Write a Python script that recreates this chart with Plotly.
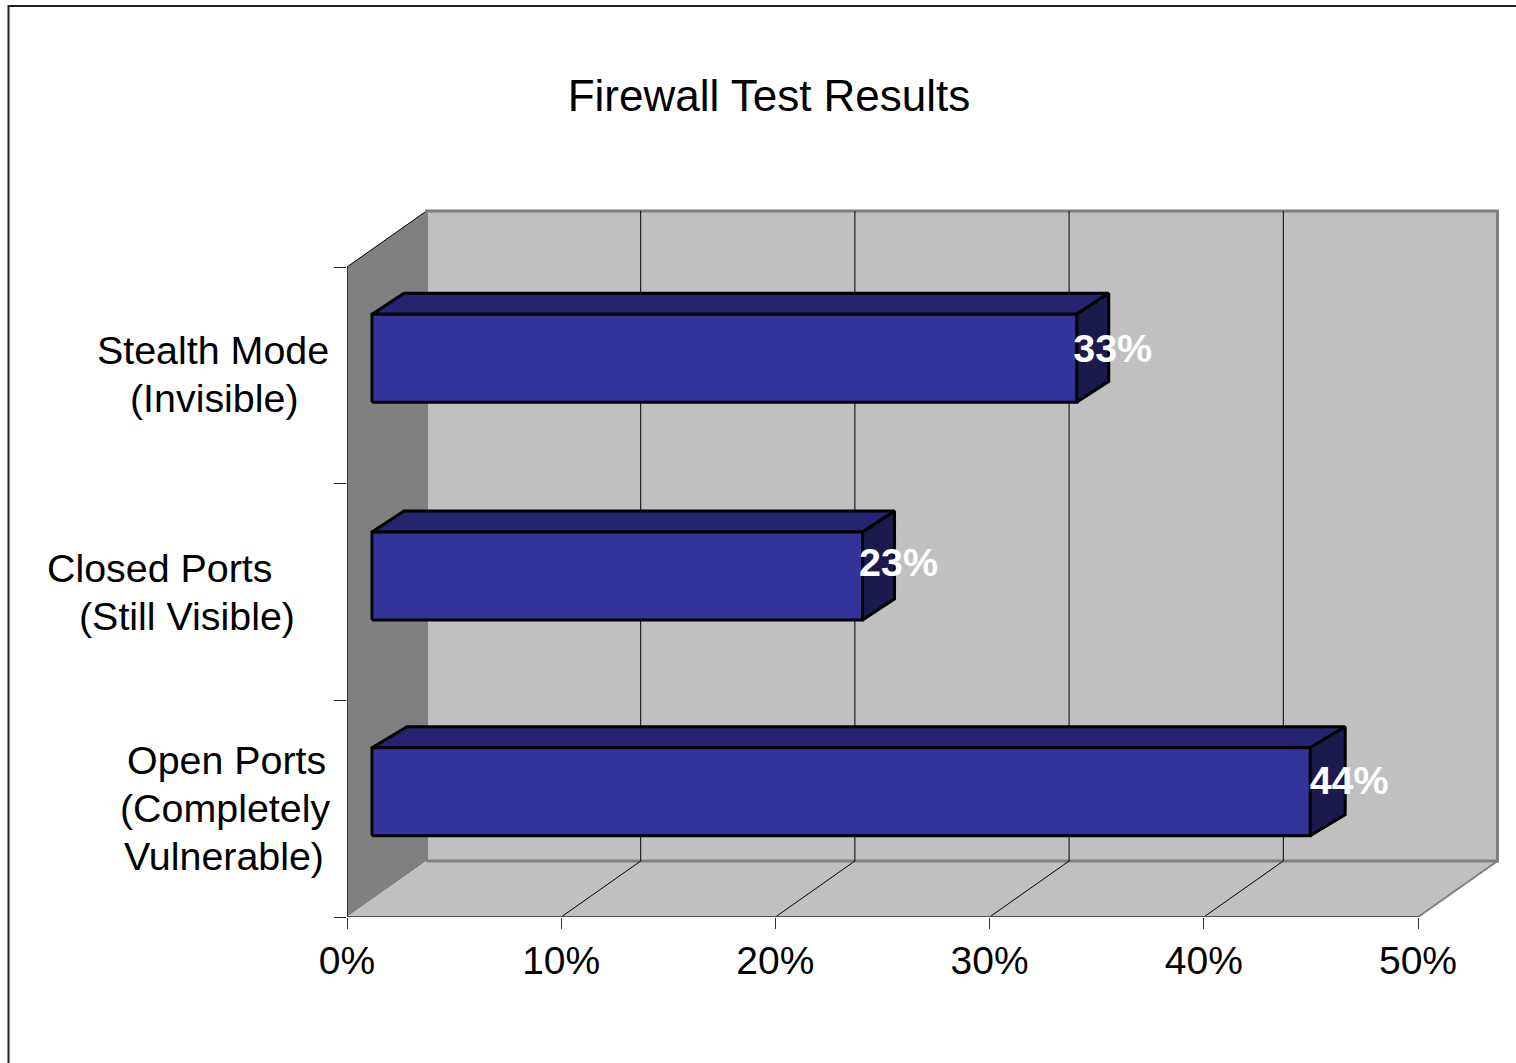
import plotly.graph_objects as go

# ---- data ----
categories = ["Open Ports", "Closed Ports", "Stealth Mode"]
category_lines = [
    ["Open Ports", "(Completely", "Vulnerable)"],
    ["Closed Ports", "(Still Visible)"],
    ["Stealth Mode", "(Invisible)"],
]
values = [43.8, 22.9, 32.9]
x_ticks = [0, 10, 20, 30, 40, 50]
title_text = "Firewall Test Results"

# ---- layout geometry (pixels) ----
W, H = 1516, 1063
L, R, T, B = 347, 1506, 203, 917       # plot box, slightly larger than the walls
PX_X = (1418 - 347) / 50.0
PX_Y = (917 - 267) / 3.0
FONT = "Liberation Sans, Arial, sans-serif"
DX, DY = 79.5 / PX_X, 56 / PX_Y        # floor/wall depth
BAR_X0 = 25 / PX_X                     # bar start offset
BAR_DY = [17 / PX_Y, 16 / PX_Y, 17 / PX_Y]   # bar shift upward from band centre
BAR_H = 44 / PX_Y                      # half height
BAR_DX3 = [35 / PX_X, 32 / PX_X, 32 / PX_X]  # bar depth
BAR_DY3 = 21 / PX_Y
LABEL_UP = [8 / PX_Y, 10 / PX_Y, 6 / PX_Y]
LABEL_RIGHT = [39 / PX_X, 36 / PX_X, 36 / PX_X]
Y0, Y1 = -0.5, 2.5
X_MAX = max(x_ticks)

x_range = [0, (R - L) / PX_X]
y_range = [Y0, Y0 + (B - T) / PX_Y]

fig = go.Figure()


def poly(xs, ys, fill=None, line="rgba(0,0,0,0)", width=0):
    closed = fill is not None
    fig.add_trace(go.Scatter(
        x=list(xs) + ([xs[0]] if closed else []),
        y=list(ys) + ([ys[0]] if closed else []),
        mode="lines", fill="toself" if closed else "none",
        fillcolor=fill, line=dict(color=line, width=width, shape="linear"),
        hoverinfo="skip", showlegend=False, cliponaxis=False,
    ))


# left wall
poly([0, 0, DX, DX], [Y0, Y1, Y1 + DY, Y0 + DY], "#808080")
poly([0, DX], [Y1, Y1 + DY], None, "#000000", 1)
# back wall
poly([DX, X_MAX + DX, X_MAX + DX, DX], [Y0 + DY, Y0 + DY, Y1 + DY, Y1 + DY], "#C0C0C0")
# floor
poly([0, X_MAX, X_MAX + DX, DX], [Y0, Y0, Y0 + DY, Y0 + DY], "#C0C0C0")
# wall borders
poly([DX, DX, X_MAX + DX, X_MAX + DX, DX],
     [Y0 + DY, Y1 + DY, Y1 + DY, Y0 + DY, Y0 + DY], None, "#808080", 3)
poly([X_MAX, X_MAX + DX], [Y0, Y0 + DY], None, "#808080", 2)
# grid lines
for t in x_ticks[1:-1]:
    poly([t, t + DX, t + DX], [Y0, Y0 + DY, Y1 + DY], None, "#000000", 1)
# axis lines
poly([0, X_MAX], [Y0, Y0], None, "#555555", 2)
poly([0, 0], [Y0, Y1], None, "#222222", 1.5)

# bars
lab_x, lab_y, lab_t = [], [], []
for i, v in enumerate(values):
    x0, x1 = BAR_X0, BAR_X0 + v
    yb, yt = i + BAR_DY[i] - BAR_H, i + BAR_DY[i] + BAR_H
    d = BAR_DX3[i]
    # top
    poly([x0, x1, x1 + d, x0 + d], [yt, yt, yt + BAR_DY3, yt + BAR_DY3],
         "#242470", "#000000", 3)
    # side
    poly([x1, x1 + d, x1 + d, x1], [yb, yb + BAR_DY3, yt + BAR_DY3, yt],
         "#1A1A4D", "#000000", 3)
    # front
    poly([x0, x1, x1, x0], [yb, yb, yt, yt], "#333399", "#000000", 3)
    lab_x.append(x1 + LABEL_RIGHT[i])
    lab_y.append(i + BAR_DY[i] + LABEL_UP[i])
    lab_t.append(f"{round(v)}%")

fig.add_trace(go.Scatter(
    x=lab_x, y=lab_y, text=lab_t, mode="text", textposition="middle center",
    textfont=dict(family=FONT, size=39.5, color="#FFFFFF", weight="bold"),
    hoverinfo="skip", showlegend=False, cliponaxis=False,
))

# category labels, one annotation per line
line_centres = [[226, 225, 224], [160, 187], [213, 214]]
line_y_shift = [[-48, 0, 48], [-24, 24], [-24, 24]]
band_mid = [808, 592, 374]
annotations = []
for i, lines in enumerate(category_lines):
    for j, txt in enumerate(lines):
        annotations.append(dict(
            text=txt, xref="paper", yref="paper", showarrow=False,
            x=(line_centres[i][j] - L) / (R - L),
            y=(B - (band_mid[i] + line_y_shift[i][j])) / (B - T),
            xanchor="center", yanchor="middle",
            font=dict(family=FONT, size=39.4, color="#000000"),
        ))

fig.update_layout(
    width=W, height=H, autosize=False,
    margin=dict(l=L, r=W - R, t=T, b=H - B, pad=0),
    paper_bgcolor="#FFFFFF", plot_bgcolor="#FFFFFF",
    showlegend=False, hovermode=False,
    title=dict(text=title_text, xref="paper", yref="container",
               x=(769 - L) / (R - L), xanchor="center",
               y=1 - 96 / H, yanchor="middle",
               font=dict(family=FONT, size=44, color="#000000")),
    xaxis=dict(range=x_range, tickvals=x_ticks, ticktext=[f"{t}%" for t in x_ticks],
               ticks="outside", ticklen=11, tickwidth=1, tickcolor="#333333",
               ticklabelstandoff=-2,
               showgrid=False, zeroline=False, showline=False,
               tickfont=dict(family=FONT, size=39, color="#000000")),
    yaxis=dict(range=y_range, tickvals=[-0.5, 0.5, 1.5, 2.5], ticktext=["", "", "", ""],
               ticks="outside", ticklen=12, tickwidth=1, tickcolor="#222222",
               showgrid=False, zeroline=False, showline=False),
    annotations=annotations,
    shapes=[dict(type="rect", xref="paper", yref="paper", layer="above",
                 x0=(8.5 - L) / (R - L), x1=(W + 20 - L) / (R - L),
                 y0=(B - (H + 20)) / (B - T), y1=(B - 6) / (B - T),
                 line=dict(color="#222222", width=2), fillcolor="rgba(0,0,0,0)")],
)

fig.write_html(
    "out.html",
    config=dict(displayModeBar=False),
    post_script="document.body.style.margin='0';document.documentElement.style.overflow='hidden';",
)
